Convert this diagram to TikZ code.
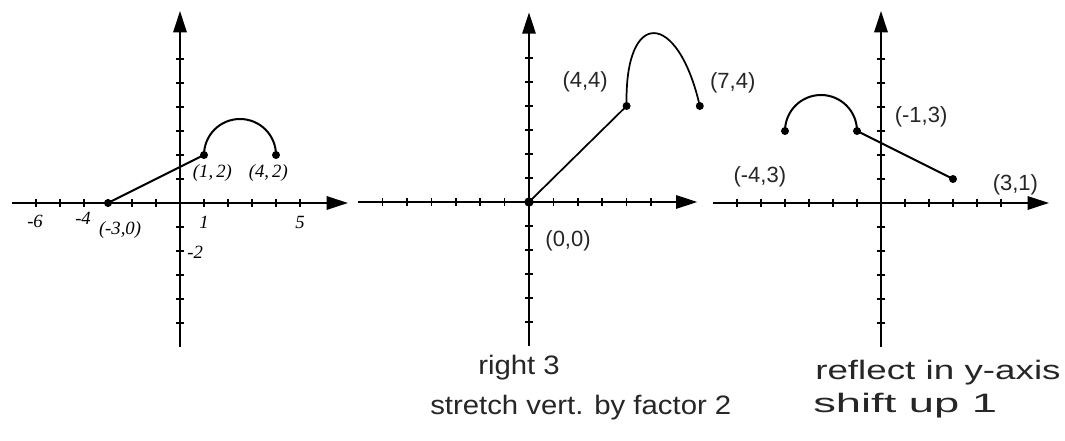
\documentclass[tikz,border=0pt]{standalone}
\usepackage{fontspec}
\setmainfont{Liberation Serif}
\newfontfamily\hand{Liberation Sans}
\usetikzlibrary{arrows.meta}
\begin{document}
\begin{tikzpicture}[x=0.75pt,y=0.75pt,
  axis/.style={line width=1.5pt,-{Triangle[length=16pt,width=10pt]}},
  tickmark/.style={line width=1.1pt},
  curve/.style={line width=1.5pt},
  dot/.style={circle,fill=black,inner sep=0pt,minimum size=6pt},
  typed/.style={font=\fontsize{14}{16}\selectfont\itshape, inner sep=0pt},
  handlbl/.style={font=\hand\fontsize{16.5}{18}\selectfont, inner sep=0pt, text=black!85},
  note/.style={font=\hand\fontsize{20}{22}\selectfont, inner sep=0pt, anchor=base west, text=black!85}]
\useasboundingbox (0,0) rectangle (1065,441);

% ---------- Graph 1 ----------
\begin{scope}[shift={(135pt,178.5pt)}, x=18pt, y=18pt]
  \draw[axis] (-7,0) -- (7,0);
  \draw[axis] (0,-6) -- (0,8);
  \foreach \i in {-6,...,-1,1,2,...,5} \draw[tickmark] (\i,-0.15) -- (\i,0.15);
  \foreach \j in {-5,...,-1,1,2,...,6} \draw[tickmark] (-0.15,\j) -- (0.15,\j);
  \node[dot] (a1) at (-3,0) {};
  \node[dot] (b1) at (1,2) {};
  \node[dot] (c1) at (4,2) {};
  \draw[curve] (a1.center) -- (b1.center);
  \draw[curve] (b1.center) arc[start angle=180, end angle=0, radius=1.5];
  \node[typed] (l1m6) at (-6.04,-0.75) {-6};
  \node[typed] (l1m4) at (-4.04,-0.63) {-4};
  \node[typed] (l1a) at (-2.5,-1.12) {(-3,0)};
  \node[typed] (l1p1) at (1,-0.8) {1};
  \node[typed] (l1p5) at (5,-0.8) {5};
  \node[typed, anchor=west] (l1m2) at (0.3,-2.04) {-2};
  \node[typed] (l1b) at (1.35,1.25) {(1,\,2)};
  \node[typed] (l1c) at (3.68,1.25) {(4,\,2)};
\end{scope}

% ---------- Graph 2 ----------
\begin{scope}[shift={(396.75pt,179.25pt)}, x=18.3pt, y=18pt]
  \draw[axis] (-7,0) -- (6.9,0);
  \draw[axis] (0,-6) -- (0,7.9);
  \foreach \i in {-6,...,-1,1,2,...,5} \draw[tickmark] (\i,-0.15) -- (\i,0.15);
  \foreach \j in {-5,...,-1,1,2,...,6} \draw[tickmark] (-0.15,\j) -- (0.15,\j);
  \node[dot, minimum size=7pt] (a2) at (0,0) {};
  \node[dot] (b2) at (4,4) {};
  \node[dot] (c2) at (7,4) {};
  \draw[curve, line width=1.3pt] (a2.center) -- (b2.center);
  \draw[curve, line width=1.3pt] (b2.center) .. controls (3.9,8.1) and (6.1,8.0) .. (c2.center);
  \node[handlbl] (l2b) at (2.3,5) {(4,4)};
  \node[handlbl] (l2c) at (8.35,4.95) {(7,4)};
  \node[handlbl] (l2a) at (1.6,-1.6) {(0,0)};
\end{scope}

% ---------- Graph 3 ----------
\begin{scope}[shift={(660.75pt,178.5pt)}, x=18pt, y=18pt]
  \draw[axis] (-7,0) -- (7,0);
  \draw[axis] (0,-6) -- (0,8);
  \foreach \i in {-6,...,-1,1,2,...,5} \draw[tickmark] (\i,-0.15) -- (\i,0.15);
  \foreach \j in {-5,...,-1,1,2,...,6} \draw[tickmark] (-0.15,\j) -- (0.15,\j);
  \node[dot] (a3) at (-4,3) {};
  \node[dot] (b3) at (-1,3) {};
  \node[dot] (c3) at (3,1) {};
  \draw[curve] (b3.center) -- (c3.center);
  \draw[curve] (a3.center) arc[start angle=180, end angle=0, radius=1.5];
  \node[handlbl] (l3a) at (-5.05,1.08) {(-4,3)};
  \node[handlbl] (l3b) at (1.67,3.58) {(-1,3)};
  \node[handlbl] (l3c) at (5.6,0.75) {(3,1)};
\end{scope}

% ---------- handwritten notes ----------
\node[note] (n1) at (478,66) {\scalebox{1.1}[1]{right 3}};
\node[note] (n2) at (430,26) {\scalebox{1.1}[1]{stretch vert. by factor 2}};
\node[note] (n3) at (815,61) {\scalebox{1.38}[1]{reflect in y-axis}};
\node[note] (n4) at (813,28) {\scalebox{1.7}[1]{shift up 1}};
\end{tikzpicture}
\end{document}
